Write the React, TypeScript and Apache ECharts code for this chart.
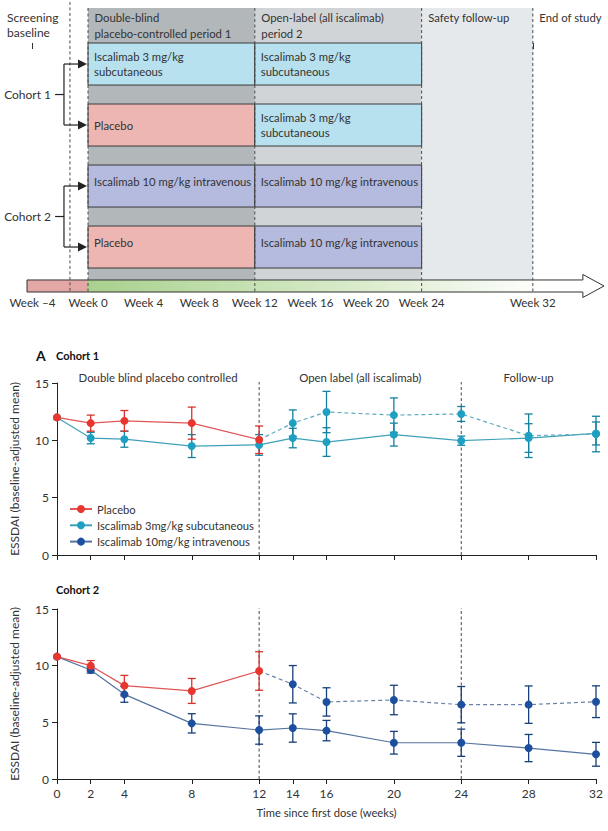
import React, { useEffect, useRef } from "react";
import * as echarts from "echarts";

const FONT = "Lato, 'Open Sans', sans-serif";
const INK = "#333333";
const FS = 11.3;

// ---------- Study design panel ----------
const designTickWeeks = [-4, 0, 4, 8, 12, 16, 20, 24, 32];
const periodStartWeeks = [0, 12, 24];
const periodEndWeeks = [12, 24, 32];
const headerWeeks = [0, 12, 24, 32];
const headerTexts = [
  "Double-blind\nplacebo-controlled period 1",
  "Open-label (all iscalimab)\nperiod 2",
  "Safety follow-up",
  "End of study",
];
const dashedWeeks = [-1.3, 0, 12, 24, 32];
const armRows = [0, 0, 1, 1, 2, 2, 3, 3];
const armStartWeeks = [0, 12, 0, 12, 0, 12, 0, 12];
const armEndWeeks = [12, 24, 12, 24, 12, 24, 12, 24];
const armLabels = [
  "Iscalimab 3 mg/kg\nsubcutaneous",
  "Iscalimab 3 mg/kg\nsubcutaneous",
  "Placebo",
  "Iscalimab 3 mg/kg\nsubcutaneous",
  "Iscalimab 10 mg/kg intravenous",
  "Iscalimab 10 mg/kg intravenous",
  "Placebo",
  "Iscalimab 10 mg/kg intravenous",
];
const armTreatments = ["sc", "sc", "placebo", "sc", "iv", "iv", "placebo", "iv"];
const cohortNames = ["Cohort 1", "Cohort 2"];
const cohortFirstRow = [0, 2];
const cohortLastRow = [1, 3];

// ---------- Outcome panels ----------
const weeksAll = [0, 2, 4, 8, 12, 14, 16, 20, 24, 28, 32];
const weeksPlacebo = [0, 2, 4, 8, 12];
const weeksCross = [12, 14, 16, 20, 24, 28, 32];
const dividerWeeks = [12, 24];
const periodMidWeeks = [6, 18, 28];
const periodTexts = ["Double blind placebo controlled", "Open label (all iscalimab)", "Follow-up"];

// Cohort 1
const c1PlaceboMean = [12.0, 11.5, 11.7, 11.5, 10.05];
const c1PlaceboErr = [0, 0.7, 0.9, 1.4, 1.2];
const c1ScMean = [12.0, 10.2, 10.1, 9.5, 9.6, 10.2, 9.85, 10.5, 9.97, 10.2, 10.6];
const c1ScErr = [0, 0.5, 0.7, 1.0, 0.9, 0.85, 1.25, 1.0, 0.4, 1.25, 1.0];
const c1CrossMean = [10.05, 11.5, 12.47, 12.2, 12.3, 10.4, 10.55];
const c1CrossErr = [0, 1.15, 1.8, 1.5, 0.65, 1.9, 1.55];

// Cohort 2
const c2PlaceboMean = [10.8, 10.0, 8.24, 7.77, 9.53];
const c2PlaceboErr = [0, 0.45, 0.9, 1.1, 1.7];
const c2IvMean = [10.8, 9.62, 7.47, 4.91, 4.32, 4.5, 4.27, 3.2, 3.2, 2.73, 2.18];
const c2IvErr = [0, 0.27, 0.7, 0.85, 1.25, 1.25, 0.9, 1.0, 1.2, 1.2, 1.05];
const c2CrossMean = [9.53, 8.36, 6.8, 6.97, 6.56, 6.56, 6.82];
const c2CrossErr = [0, 1.65, 1.25, 1.3, 1.6, 1.65, 1.4];

const yTicks = [0, 5, 10, 15];

const SERIES_NAMES = ["Placebo", "Iscalimab 3mg/kg subcutaneous", "Iscalimab 10mg/kg intravenous"];

// ---------- styling ----------
const RED = "#e8362f";
const RED_LINE = "#e05656";
const RED_ERR = "#d8332c";
const TEAL = "#1ea0c3";
const TEAL_LINE = "#3fa1b9";
const TEAL_ERR = "#13819f";
const TEAL_DASH = "#5fabc0";
const BLUE = "#1c4f9d";
const BLUE_LINE = "#55739f";
const BLUE_ERR = "#173f79";
const BLUE_DASH = "#6882a8";

const BAND_COLORS = ["#b2b7ba", "#d1d4d7", "#e6e9eb"];
const ARM_COLORS: Record<string, string> = { sc: "#b7e1ef", placebo: "#edb6b2", iv: "#b5badf" };
const PINK_BAR = "#e3a8a5";

// design axis layout (row units on y)
const D_YMIN = -0.574;
const BAR_TOP = 3.885;
const BAR_BOT = 4.082;
const ROW_H = 0.689;
const D_XMIN = -4.39;
const D_XMAX = 37.12;
const ARROW_HEAD_WEEK = 35.6;
const BRACKET_WEEK = -1.73;
const STUB_WEEK = -2.37;

function txt(x: number, y: number, text: string, extra: any = {}) {
  return {
    type: "text",
    x,
    y,
    style: {
      text,
      fill: INK,
      fontSize: FS,
      fontFamily: FONT,
      align: "left",
      verticalAlign: "middle",
      textAlign: "left",
      textVerticalAlign: "middle",
      ...extra,
    },
  };
}

function errBars(weeks: number[], mean: number[], err: number[]) {
  const out: number[][] = [];
  weeks.forEach((w, i) => {
    if (err[i] > 0) out.push([w, mean[i] - err[i], mean[i] + err[i]]);
  });
  return out;
}

function errSeries(grid: number, data: number[][], color: string) {
  return {
    type: "custom",
    xAxisIndex: grid,
    yAxisIndex: grid,
    z: 3,
    silent: true,
    data,
    renderItem: (_p: any, api: any) => {
      const x = api.value(0);
      const lo = api.coord([x, api.value(1)]);
      const hi = api.coord([x, api.value(2)]);
      const w = 4;
      const st = { stroke: color, lineWidth: 1.3 };
      return {
        type: "group",
        children: [
          { type: "line", shape: { x1: lo[0], y1: lo[1], x2: hi[0], y2: hi[1] }, style: st },
          { type: "line", shape: { x1: lo[0] - w, y1: lo[1], x2: lo[0] + w, y2: lo[1] }, style: st },
          { type: "line", shape: { x1: hi[0] - w, y1: hi[1], x2: hi[0] + w, y2: hi[1] }, style: st },
        ],
      };
    },
  };
}

function lineSeries(grid: number, name: string, weeks: number[], mean: number[], color: string, lineColor: string, dashed: boolean, z: number) {
  return {
    type: "line",
    name,
    xAxisIndex: grid,
    yAxisIndex: grid,
    z,
    silent: true,
    symbol: "circle",
    symbolSize: 8,
    showSymbol: true,
    data: weeks.map((w, i) => (dashed && i === 0 ? { value: [w, mean[i]], symbol: "none" } : [w, mean[i]])),
    lineStyle: { color: lineColor, width: 1.2, type: dashed ? [4, 3] : "solid" },
    itemStyle: { color },
    emphasis: { disabled: true },
  };
}

function dividerSeries(grid: number) {
  return {
    type: "custom",
    xAxisIndex: grid,
    yAxisIndex: grid,
    z: 1,
    silent: true,
    data: dividerWeeks.map((w) => [w, 0]),
    renderItem: (_p: any, api: any) => {
      const w = api.value(0);
      const a = api.coord([w, 0]);
      const b = api.coord([w, 15]);
      return {
        type: "line",
        shape: { x1: a[0], y1: a[1], x2: b[0], y2: b[1] - 1 },
        style: { stroke: "#444", lineWidth: 1, lineDash: [3, 2.5] },
      };
    },
  };
}

function chartXAxis(grid: number, labels: boolean) {
  return {
    type: "value",
    gridIndex: grid,
    min: 0,
    max: 32,
    axisLine: { show: true, lineStyle: { color: "#222", width: 1 } },
    axisTick: { show: true, customValues: weeksAll, length: 5, lineStyle: { color: "#222" } },
    axisLabel: labels
      ? { show: true, customValues: weeksAll, fontSize: 12, color: INK, fontFamily: FONT, margin: 8 }
      : { show: false },
    splitLine: { show: false },
    name: labels ? "Time since first dose (weeks)" : "",
    nameLocation: "middle",
    nameGap: 28,
    nameTextStyle: { fontSize: 11.2, color: INK, fontFamily: FONT },
  };
}

function chartYAxis(grid: number) {
  return {
    type: "value",
    gridIndex: grid,
    min: 0,
    max: 15,
    interval: 5,
    axisLine: { show: true, lineStyle: { color: "#222", width: 1 } },
    axisTick: { show: true, length: 5, lineStyle: { color: "#222" }, customValues: yTicks },
    axisLabel: { fontSize: 12, color: INK, fontFamily: FONT, margin: 8, customValues: yTicks },
    splitLine: { show: false },
    name: "ESSDAI (baseline-adjusted mean)",
    nameLocation: "middle",
    nameGap: 37,
    nameTextStyle: { fontSize: 12, color: INK, fontFamily: FONT },
  };
}

export default function App() {
  const ref = useRef<HTMLDivElement>(null);
  useEffect(() => {
    document.body.style.margin = "0";
    const chart = echarts.init(ref.current!, null, { renderer: "svg" });

    const designSeries: any[] = [
      // period bands
      {
        type: "custom",
        xAxisIndex: 0,
        yAxisIndex: 0,
        z: 1,
        silent: true,
        data: periodStartWeeks.map((s, i) => [s, periodEndWeeks[i]]),
        renderItem: (p: any, api: any) => {
          const i = p.dataIndex;
          const a = api.coord([periodStartWeeks[i], D_YMIN]);
          const b = api.coord([periodEndWeeks[i], BAR_TOP]);
          return {
            type: "rect",
            shape: { x: a[0], y: a[1], width: b[0] - a[0], height: b[1] - a[1] },
            style: { fill: BAND_COLORS[i] },
          };
        },
      },
      // arms
      {
        type: "custom",
        xAxisIndex: 0,
        yAxisIndex: 0,
        z: 2,
        silent: true,
        data: armRows.map((r, i) => [armStartWeeks[i], r, armEndWeeks[i]]),
        renderItem: (p: any, api: any) => {
          const i = p.dataIndex;
          const a = api.coord([armStartWeeks[i], armRows[i]]);
          const b = api.coord([armEndWeeks[i], armRows[i] + ROW_H]);
          const dy = armRows[i] >= 2 ? -4.5 : 0;
          return {
            type: "group",
            children: [
              {
                type: "rect",
                shape: { x: a[0], y: a[1], width: b[0] - a[0], height: b[1] - a[1] },
                style: { fill: ARM_COLORS[armTreatments[i]], stroke: "#3a3a3a", lineWidth: 1 },
              },
              txt(a[0] + 6, (a[1] + b[1]) / 2 + dy, armLabels[i], { lineHeight: 15 }),
            ],
          };
        },
      },
      // dashed period boundaries
      {
        type: "custom",
        xAxisIndex: 0,
        yAxisIndex: 0,
        z: 3,
        silent: true,
        data: dashedWeeks.map((w) => [w, 0]),
        renderItem: (p: any, api: any) => {
          const w = api.value(0);
          const a = api.coord([w, p.dataIndex === 0 ? D_YMIN - 0.1 : D_YMIN]);
          const b = api.coord([w, BAR_BOT]);
          return {
            type: "line",
            shape: { x1: a[0], y1: a[1], x2: b[0], y2: b[1] },
            style: { stroke: "#4a4a4a", lineWidth: 1, lineDash: [3, 2.5] },
          };
        },
      },
      // period headers
      {
        type: "custom",
        xAxisIndex: 0,
        yAxisIndex: 0,
        z: 4,
        silent: true,
        data: headerWeeks.map((w) => [w, 0]),
        renderItem: (p: any, api: any) => {
          const a = api.coord([api.value(0), D_YMIN]);
          return txt(a[0] + 6.5, a[1] + 1, headerTexts[p.dataIndex], {
            verticalAlign: "top",
            textVerticalAlign: "top",
            lineHeight: 16,
          });
        },
      },
      // timeline arrow
      {
        type: "custom",
        xAxisIndex: 0,
        yAxisIndex: 0,
        z: 2,
        silent: true,
        data: [[0, BAR_TOP]],
        renderItem: (_p: any, api: any) => {
          const a = api.coord([D_XMIN, BAR_TOP]);
          const b = api.coord([ARROW_HEAD_WEEK, BAR_BOT]);
          const tip = api.coord([D_XMAX, (BAR_TOP + BAR_BOT) / 2]);
          const zero = api.coord([0, BAR_TOP]);
          const head = 5.5;
          const off = (zero[0] - a[0]) / (tip[0] - a[0]);
          const pts = [
            [a[0], a[1]],
            [b[0], a[1]],
            [b[0], a[1] - head],
            [tip[0], tip[1]],
            [b[0], b[1] + head],
            [b[0], b[1]],
            [a[0], b[1]],
          ];
          return {
            type: "polygon",
            shape: { points: pts },
            style: {
              fill: new echarts.graphic.LinearGradient(0, 0, 1, 0, [
                { offset: 0, color: PINK_BAR },
                { offset: off, color: PINK_BAR },
                { offset: off, color: "#a9d18e" },
                { offset: 0.55, color: "#d7eac8" },
                { offset: 0.9, color: "#ffffff" },
                { offset: 1, color: "#ffffff" },
              ]),
              stroke: "#333",
              lineWidth: 1,
            },
          };
        },
      },
      // cohort brackets
      {
        type: "custom",
        xAxisIndex: 0,
        yAxisIndex: 0,
        z: 4,
        silent: true,
        data: cohortNames.map((_, i) => [BRACKET_WEEK, cohortFirstRow[i]]),
        renderItem: (p: any, api: any) => {
          const i = p.dataIndex;
          const top = api.coord([BRACKET_WEEK, cohortFirstRow[i] + ROW_H / 2]);
          const bot = api.coord([BRACKET_WEEK, cohortLastRow[i] + ROW_H / 2]);
          const stub = api.coord([STUB_WEEK, 0]);
          const target = api.coord([0, 0]);
          const mid = (top[1] + bot[1]) / 2;
          const st = { stroke: "#222", lineWidth: 1.2 };
          const tipX = target[0] - 1;
          const ah = 9;
          const arrow = (y: number) => ({
            type: "polygon",
            shape: { points: [[tipX - ah, y - 4.5], [tipX, y], [tipX - ah, y + 4.5]] },
            style: { fill: "#222" },
          });
          return {
            type: "group",
            children: [
              { type: "line", shape: { x1: stub[0], y1: mid, x2: top[0], y2: mid }, style: st },
              { type: "line", shape: { x1: top[0], y1: top[1], x2: bot[0], y2: bot[1] }, style: st },
              { type: "line", shape: { x1: top[0], y1: top[1], x2: tipX - ah, y2: top[1] }, style: st },
              { type: "line", shape: { x1: bot[0], y1: bot[1], x2: tipX - ah, y2: bot[1] }, style: st },
              arrow(top[1]),
              arrow(bot[1]),
              txt(stub[0] - 4, mid, cohortNames[i], { align: "right", textAlign: "right", fontSize: 12 }),
            ],
          };
        },
      },
    ];

    const periodLabelSeries = {
      type: "custom",
      xAxisIndex: 1,
      yAxisIndex: 1,
      z: 2,
      silent: true,
      data: periodMidWeeks.map((w) => [w, 15]),
      renderItem: (p: any, api: any) => {
        const a = api.coord([api.value(0), 15]);
        return txt(a[0], a[1] - 6, periodTexts[p.dataIndex], { align: "center", textAlign: "center", fontSize: 11.4 });
      },
    };

    const option: any = {
      animation: false,
      textStyle: { fontFamily: FONT },
      title: [
        {
          text: "Screening\nbaseline",
          left: 7,
          top: 10,
          padding: 0,
          textStyle: { fontSize: 12, fontWeight: "normal", color: INK, lineHeight: 15, fontFamily: FONT },
        },
        { text: "A", left: 36, top: 348, padding: 0, textStyle: { fontSize: 14, fontWeight: "bold", color: "#111", fontFamily: FONT } },
        { text: "Cohort 1", left: 56, top: 350, padding: 0, textStyle: { fontSize: 11, fontWeight: "bold", color: "#111", fontFamily: FONT } },
        { text: "Cohort 2", left: 56, top: 584, padding: 0, textStyle: { fontSize: 11, fontWeight: "bold", color: "#111", fontFamily: FONT } },
      ],
      legend: {
        data: SERIES_NAMES,
        orient: "vertical",
        left: 64,
        top: 497,
        itemWidth: 22,
        itemHeight: 10,
        itemGap: 2.3,
        selectedMode: false,
        textStyle: { fontSize: 11.2, color: INK, fontFamily: FONT, lineHeight: 14 },
      },
      grid: [
        { left: 27, top: 8, width: 577, height: 284 },
        { left: 55, top: 383, width: 541, height: 172 },
        { left: 55, top: 609, width: 541, height: 170 },
      ],
      xAxis: [
        {
          type: "value",
          gridIndex: 0,
          min: D_XMIN,
          max: D_XMAX,
          axisLine: { show: false },
          axisTick: { show: true, customValues: designTickWeeks, length: 6, lineStyle: { color: "#333" } },
          axisLabel: {
            show: true,
            customValues: designTickWeeks,
            fontSize: 11.6,
            color: INK,
            fontFamily: FONT,
            margin: 4,
            formatter: (v: number) => (v < 0 ? `Week –${-v}` : `Week ${v}`),
          },
          splitLine: { show: false },
        },
        chartXAxis(1, false),
        chartXAxis(2, true),
      ],
      yAxis: [
        { type: "value", gridIndex: 0, inverse: true, min: D_YMIN, max: BAR_BOT, show: false, splitLine: { show: false } },
        chartYAxis(1),
        chartYAxis(2),
      ],
      series: [
        ...designSeries,
        // cohort 1
        dividerSeries(1),
        periodLabelSeries,
        errSeries(1, errBars(weeksAll, c1ScMean, c1ScErr), TEAL_ERR),
        errSeries(1, errBars(weeksCross, c1CrossMean, c1CrossErr), TEAL_ERR),
        errSeries(1, errBars(weeksPlacebo, c1PlaceboMean, c1PlaceboErr), RED_ERR),
        lineSeries(1, SERIES_NAMES[1], weeksAll, c1ScMean, TEAL, TEAL_LINE, false, 4),
        lineSeries(1, "Placebo to iscalimab 3mg/kg", weeksCross, c1CrossMean, TEAL, TEAL_DASH, true, 4),
        lineSeries(1, SERIES_NAMES[0], weeksPlacebo, c1PlaceboMean, RED, RED_LINE, false, 5),
        // cohort 2
        dividerSeries(2),
        errSeries(2, errBars(weeksAll, c2IvMean, c2IvErr), BLUE_ERR),
        errSeries(2, errBars(weeksCross, c2CrossMean, c2CrossErr), BLUE_ERR),
        errSeries(2, errBars(weeksPlacebo, c2PlaceboMean, c2PlaceboErr), RED_ERR),
        lineSeries(2, SERIES_NAMES[2], weeksAll, c2IvMean, BLUE, BLUE_LINE, false, 4),
        lineSeries(2, "Placebo to iscalimab 10mg/kg", weeksCross, c2CrossMean, BLUE, BLUE_DASH, true, 4),
        lineSeries(2, SERIES_NAMES[0], weeksPlacebo, c2PlaceboMean, RED, RED_LINE, false, 5),
      ],
    };
    chart.setOption(option);
    return () => chart.dispose();
  }, []);
  return <div ref={ref} style={{ width: 608, height: 831 }} />;
}
